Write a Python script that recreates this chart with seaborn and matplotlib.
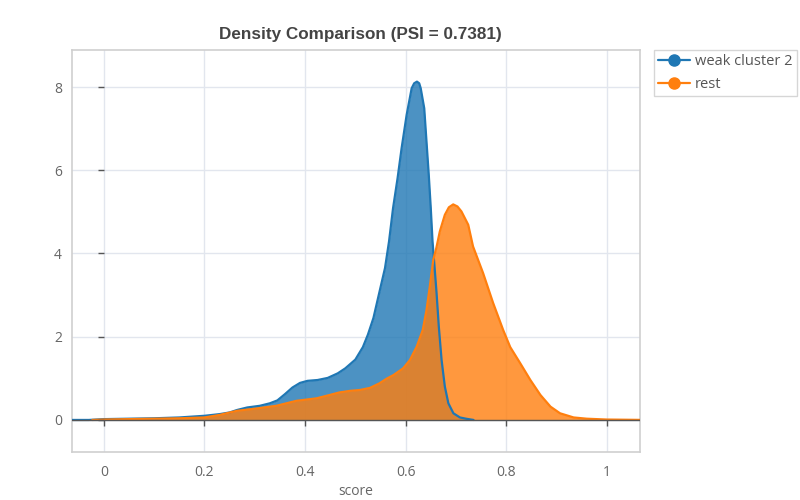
import numpy as np
import pandas as pd
import matplotlib
matplotlib.use("Agg")
import matplotlib.pyplot as plt
import seaborn as sns
from matplotlib.lines import Line2D

# ---- data ----
blue_x = [-0.08, -0.03, 0.00, 0.05, 0.10, 0.15, 0.20, 0.23, 0.25, 0.265, 0.285, 0.31, 0.33,
          0.345, 0.36, 0.375, 0.39, 0.405, 0.425, 0.445, 0.465, 0.48, 0.50, 0.515, 0.525,
          0.536, 0.549, 0.559, 0.567, 0.575, 0.584, 0.592, 0.602, 0.612, 0.617, 0.6225,
          0.627, 0.630, 0.637, 0.6415, 0.646, 0.650, 0.6535, 0.658, 0.6615, 0.666, 0.6715,
          0.678, 0.685, 0.695, 0.708, 0.72, 0.735]
blue_y = [0.0, 0.0, 0.02, 0.03, 0.04, 0.06, 0.10, 0.14, 0.18, 0.24, 0.30, 0.34, 0.40,
          0.47, 0.62, 0.78, 0.89, 0.94, 0.96, 1.01, 1.12, 1.24, 1.45, 1.75, 2.05,
          2.45, 3.13, 3.65, 4.29, 5.09, 5.81, 6.53, 7.33, 7.97, 8.09, 8.13,
          8.09, 7.97, 7.49, 6.69, 5.89, 5.09, 4.29, 3.60, 3.05, 2.24, 1.44,
          0.80, 0.40, 0.16, 0.06, 0.03, 0.0]

orange_x = [-0.023, 0.00, 0.05, 0.10, 0.15, 0.20, 0.23, 0.265, 0.30, 0.343, 0.383, 0.423,
            0.449, 0.468, 0.49, 0.509, 0.529, 0.548, 0.562, 0.576, 0.595, 0.6085, 0.622,
            0.634, 0.6415, 0.648, 0.655, 0.661, 0.668, 0.678, 0.686, 0.6946, 0.703, 0.711,
            0.7245, 0.734, 0.754, 0.774, 0.794, 0.808, 0.828, 0.848, 0.868, 0.888, 0.907,
            0.934, 0.96, 1.00, 1.08]
orange_y = [0.0, 0.01, 0.02, 0.03, 0.04, 0.06, 0.12, 0.22, 0.27, 0.34, 0.46, 0.52,
            0.60, 0.66, 0.70, 0.72, 0.77, 0.88, 0.99, 1.08, 1.24, 1.44, 1.76,
            2.16, 2.64, 3.20, 3.85, 4.13, 4.53, 4.93, 5.11, 5.18, 5.13, 5.01,
            4.69, 4.17, 3.53, 2.81, 2.16, 1.75, 1.36, 0.96, 0.60, 0.32, 0.16,
            0.06, 0.03, 0.01, 0.0]

series_names = ["weak cluster 2", "rest"]
title_text = "Density Comparison (PSI = 0.7381)"
x_label = "score"
x_ticks = [0, 0.2, 0.4, 0.6, 0.8, 1]
x_tick_labels = ["0", "0.2", "0.4", "0.6", "0.8", "1"]
y_ticks = [0, 2, 4, 6, 8]

df = pd.concat([
    pd.DataFrame({"score": blue_x, "density": blue_y, "group": series_names[0]}),
    pd.DataFrame({"score": orange_x, "density": orange_y, "group": series_names[1]}),
], ignore_index=True)

colors = {series_names[0]: "#1f77b4", series_names[1]: "#ff7f0e"}

sns.set_theme(style="white")
plt.rcParams["font.family"] = ["Open Sans", "DejaVu Sans"]

fig = plt.figure(figsize=(8, 5), dpi=100)
ax = fig.add_axes([0.0896, 0.096, 0.7104, 0.804])

# fills first
for name in series_names:
    sub = df[df["group"] == name]
    ax.fill_between(sub["score"], 0, sub["density"], color=colors[name], alpha=0.8,
                    linewidth=0, zorder=2)

sns.lineplot(data=df, x="score", y="density", hue="group", palette=colors,
             sort=False, estimator=None, linewidth=1.6, legend=False, ax=ax, zorder=3)
for ln in ax.get_lines():
    ln.set_solid_joinstyle("round")

ax.set_xlim(-0.064, 1.066)
ax.set_ylim(-0.77, 8.89)

ax.set_xticks(x_ticks)
ax.set_xticklabels(x_tick_labels)
ax.set_yticks(y_ticks)
ax.tick_params(axis="both", length=0, labelsize=10, labelcolor="#666666")
ax.tick_params(axis="x", pad=9)
ax.tick_params(axis="y", pad=7)
ax.grid(True, color="#e2e6ee", linewidth=1.0, zorder=0)
ax.set_axisbelow(True)

# zero axis line with tick marks (plotly-style)
ax.axhline(0, color="#555555", linewidth=1.0, zorder=4)
ax.plot(x_ticks, np.zeros(len(x_ticks)), linestyle="none", marker=3, markersize=4,
        markeredgewidth=1.0, color="#555555", zorder=4, clip_on=False)
ax.plot(np.zeros(len(y_ticks)), y_ticks, linestyle="none", marker=0, markersize=4,
        markeredgewidth=1.0, color="#555555", zorder=4)

for s in ax.spines.values():
    s.set_color("#cfcfcf")
    s.set_linewidth(1.2)

ax.set_xlabel(x_label, fontsize=10, color="#666666", labelpad=3)
ax.set_ylabel("")

fig.text(0.45, 1 - 34 / 500, title_text, ha="center", va="center",
         fontsize=12.3, fontweight="bold", color="#444444",
         family=["Liberation Sans", "DejaVu Sans"])

handles = [Line2D([0], [0], color=colors[n], marker="o", markersize=8, linewidth=1.6)
           for n in series_names]
leg = fig.legend(handles, series_names, loc="upper left",
                 bbox_to_anchor=(654 / 800, 1 - 50 / 500), frameon=True,
                 fontsize=10.5, labelcolor="#555555", handlelength=2.2,
                 handletextpad=0.3, borderpad=0.3, labelspacing=0.5,
                 fancybox=False, borderaxespad=0)
leg.get_frame().set_edgecolor("#cccccc")
leg.get_frame().set_linewidth(1.0)

fig.savefig("out.png", dpi=100)
